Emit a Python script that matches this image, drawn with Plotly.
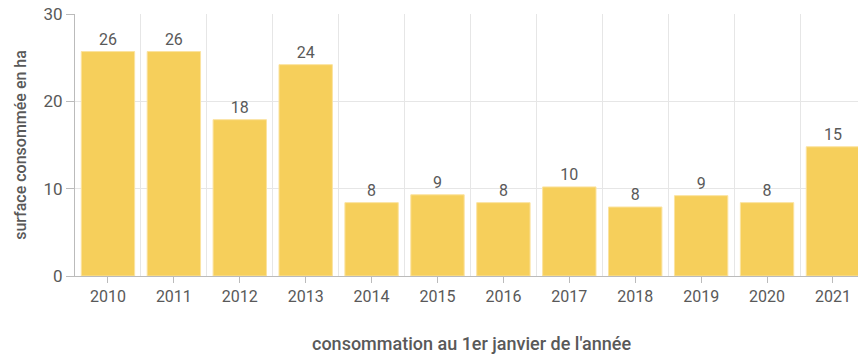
import plotly.graph_objects as go

# Surface consommée par année (ha)
years = ["2010", "2011", "2012", "2013", "2014", "2015",
         "2016", "2017", "2018", "2019", "2020", "2021"]
surface_ha = [25.7, 25.7, 17.9, 24.2, 8.4, 9.3, 8.4, 10.2, 7.9, 9.2, 8.4, 14.8]
y_ticks = [0, 10, 20, 30]

positions = list(range(len(years)))
text_color = "#595959"
font_family = "Roboto, 'Open Sans', sans-serif"

fig = go.Figure(
    go.Bar(
        x=positions,
        y=surface_ha,
        marker=dict(color="#f6cf5b", line=dict(color="#fbe3a0", width=1)),
        texttemplate="%{y:.0f}",
        textposition="outside",
        textfont=dict(family=font_family, size=16, color=text_color),
        cliponaxis=False,
        hovertemplate="%{y}<extra></extra>",
    )
)

fig.update_layout(
    width=858,
    height=356,
    margin=dict(l=75, r=0, t=14, b=80),
    paper_bgcolor="white",
    plot_bgcolor="white",
    bargap=0.19,
    showlegend=False,
    font=dict(family=font_family, size=16, color=text_color),
)

# x-axis title, centred on the full category span (last category runs past the edge)
fig.add_annotation(
    text="consommation au 1er janvier de l'année",
    xref="paper", yref="paper",
    x=0.507, y=0, yshift=-67,
    xanchor="center", yanchor="middle",
    showarrow=False,
    font=dict(family=font_family, size=18, color=text_color, weight=500),
)

fig.update_xaxes(
    range=[-0.5, 11.38],
    tickmode="array",
    tickvals=positions,
    ticktext=years,
    ticks="outside",
    ticklen=6,
    tickcolor="#bbbbbb",
    showgrid=False,
    showline=True,
    linecolor="#bbbbbb",
    linewidth=1,
    zeroline=False,
    tickfont=dict(size=16, color=text_color),
    minor=dict(tick0=0.5, dtick=1, showgrid=True, gridcolor="#e6e6e6",
               gridwidth=1, ticks=""),
)

fig.update_yaxes(
    range=[0, 30],
    tickmode="array",
    tickvals=y_ticks,
    ticks="outside",
    ticklen=8,
    tickcolor="#bbbbbb",
    showgrid=True,
    gridcolor="#e6e6e6",
    showline=True,
    linecolor="#bbbbbb",
    zeroline=False,
    tickfont=dict(size=17, color=text_color),
    title=dict(text="surface consommée en ha",
               font=dict(size=16, color=text_color, weight=500), standoff=12),
)

fig.write_html("out.html")
